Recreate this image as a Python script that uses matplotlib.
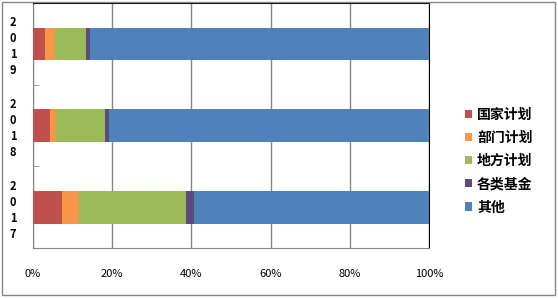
import matplotlib
matplotlib.use("Agg")
import matplotlib.pyplot as plt
from matplotlib.patches import Rectangle

years = ["2019", "2018", "2017"]
series = ["国家计划", "部门计划", "地方计划", "各类基金", "其他"]
guojia = [3.1, 4.2, 7.3]
bumen = [2.4, 1.5, 4.3]
difang = [7.8, 12.4, 27.0]
jijin = [1.0, 1.0, 2.0]
qita = [85.7, 80.9, 59.4]
colors = ["#C0504D", "#F79646", "#9BBB59", "#604A7B", "#4F81BD"]

plt.rcParams["font.family"] = ["Noto Sans CJK SC", "DejaVu Sans"]

fig = plt.figure(figsize=(5.58, 2.98), dpi=100)
ax = fig.add_axes([33 / 558, 50 / 298, 396 / 558, 245 / 298])

ypos = [2, 1, 0]
left = [0.0, 0.0, 0.0]
for name, vals, c in zip(series, [guojia, bumen, difang, jijin, qita], colors):
    ax.barh(ypos, vals, left=left, height=0.4, color=c, label=name, zorder=3)
    left = [l + v for l, v in zip(left, vals)]

ax.set_xlim(0, 100)
ax.set_ylim(-0.5, 2.5)
ax.set_xticks([0, 20, 40, 60, 80, 100])
ax.set_xticklabels(["0%", "20%", "40%", "60%", "80%", "100%"], fontsize=8)
ax.set_yticks(ypos)
ax.set_yticklabels(["\n".join(y) for y in years], fontsize=8, fontweight="bold",
                   linespacing=1.3)
ax.tick_params(axis="y", which="major", length=0, pad=12)
ax.tick_params(axis="x", length=0, pad=15)
ax.set_yticks([0.5, 1.5], minor=True)
ax.tick_params(axis="y", which="minor", direction="in", length=4, color="#868686")
ax.grid(axis="x", color="#868686", lw=1, zorder=0)
for s in ["left", "bottom"]:
    ax.spines[s].set_color("#868686")
for s in ["top", "right"]:
    ax.spines[s].set_color("black")

h, l = ax.get_legend_handles_labels()
fig.legend(h, l, loc="center left", bbox_to_anchor=(452 / 558, 137 / 298),
           frameon=False, handlelength=0.55, handleheight=0.55, handletextpad=0.35,
           labelspacing=0.66, prop={"size": 10, "weight": "bold"})

fig.patches.append(Rectangle((2 / 558, 3 / 298), 553 / 558, 293 / 298,
                             transform=fig.transFigure, fill=False,
                             edgecolor="#868686", lw=1))

fig.savefig("out.png", dpi=100)
